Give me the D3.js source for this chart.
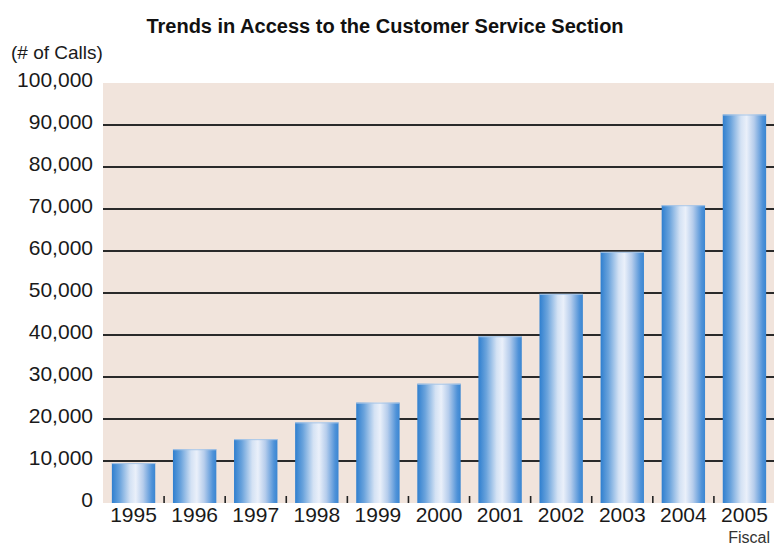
<!DOCTYPE html>
<html>
<head>
<meta charset="utf-8">
<script src="https://cdn.jsdelivr.net/npm/d3@7"></script>
<style>
  html, body { margin: 0; padding: 0; background: #fff; }
  svg { display: block; font-family: "Liberation Sans", Arial, Helvetica, sans-serif; }
</style>
</head>
<body>
<svg id="chart" width="774" height="547"></svg>
<script>
// Annual calls to the Customer Service Section, by fiscal year
const years = ["1995", "1996", "1997", "1998", "1999", "2000", "2001", "2002", "2003", "2004", "2005"];
const calls = [9500, 12800, 15200, 19200, 23900, 28400, 39700, 49800, 59800, 70900, 92500];
const yTicks = [0, 10000, 20000, 30000, 40000, 50000, 60000, 70000, 80000, 90000, 100000];

const titleText = "Trends in Access to the Customer Service Section";
const unitText = "(# of Calls)";
const xAxisText = "Fiscal";

const svg = d3.select("#chart");
const W = 774;
const plot = { left: 103, right: 775, top: 83, bottom: 503 };

const x = d3.scaleBand()
  .domain(years)
  .range([plot.left, plot.right])
  .paddingInner(0.29)
  .paddingOuter(0.145);

const y = d3.scaleLinear()
  .domain([0, 100000])
  .range([plot.bottom, plot.top]);

// Bar shading: dark blue edges with a pale highlight near the middle
const defs = svg.append("defs");
const grad = defs.append("linearGradient")
  .attr("id", "barShade")
  .attr("x1", "0%").attr("x2", "100%")
  .attr("y1", "0%").attr("y2", "0%");
[
  [0, "#2f7fcf"],
  [0.18, "#6aa3dc"],
  [0.42, "#d4e2f4"],
  [0.55, "#eaf0fa"],
  [0.72, "#b6cdec"],
  [0.92, "#4f92d8"],
  [1, "#3a86d2"]
].forEach(([o, c]) => grad.append("stop").attr("offset", o).attr("stop-color", c));

// Plot background
svg.append("rect")
  .attr("x", plot.left)
  .attr("y", y(100000))
  .attr("width", W - plot.left)
  .attr("height", y(0) - y(100000))
  .attr("fill", "#f1e4dc");

// Horizontal gridlines behind the bars
svg.append("g")
  .selectAll("line")
  .data(yTicks.filter(v => v > 0 && v < 100000))
  .join("line")
  .attr("x1", plot.left)
  .attr("x2", W)
  .attr("y1", d => y(d))
  .attr("y2", d => y(d))
  .attr("stroke", "#2a2a2a")
  .attr("stroke-width", 2);

const barData = years.map((yr, i) => ({ yr, v: calls[i] }));

// Bars
svg.append("g")
  .selectAll("rect")
  .data(barData)
  .join("rect")
  .attr("x", d => x(d.yr))
  .attr("width", x.bandwidth())
  .attr("y", d => y(d.v))
  .attr("height", d => y(0) - y(d.v))
  .attr("fill", "url(#barShade)");

// Thin light cap on each bar
svg.append("g")
  .selectAll("line")
  .data(barData)
  .join("line")
  .attr("x1", d => x(d.yr))
  .attr("x2", d => x(d.yr) + x.bandwidth())
  .attr("y1", d => y(d.v) + 0.5)
  .attr("y2", d => y(d.v) + 0.5)
  .attr("stroke", "#a9c6e6")
  .attr("stroke-width", 1);

// Small separators between categories at the baseline
svg.append("g")
  .selectAll("line")
  .data(years.slice(1))
  .join("line")
  .attr("x1", d => x(d) - x.step() * x.paddingInner() / 2)
  .attr("x2", d => x(d) - x.step() * x.paddingInner() / 2)
  .attr("y1", y(0) - 7)
  .attr("y2", y(0))
  .attr("stroke", "#222")
  .attr("stroke-width", 1.6);

// Y axis labels
const yAxis = d3.axisLeft(y)
  .tickValues(yTicks)
  .tickSize(0)
  .tickPadding(0)
  .tickFormat(d3.format(","));

svg.append("g")
  .attr("transform", `translate(${plot.left - 10},-3)`)
  .call(yAxis)
  .call(g => g.select(".domain").remove())
  .call(g => g.selectAll("text")
    .attr("font-size", 21)
    .attr("fill", "#1a1a1a")
    .attr("font-family", "'Liberation Sans', Arial, sans-serif"));

// X axis labels
const xAxis = d3.axisBottom(x).tickSize(0).tickPadding(0);
svg.append("g")
  .attr("transform", `translate(0,${plot.bottom + 4})`)
  .call(xAxis)
  .call(g => g.select(".domain").remove())
  .call(g => g.selectAll("text")
    .attr("font-size", 21)
    .attr("fill", "#1a1a1a")
    .attr("font-family", "'Liberation Sans', Arial, sans-serif"));

// Title and axis captions
svg.append("text")
  .attr("x", 385)
  .attr("y", 33)
  .attr("text-anchor", "middle")
  .attr("font-size", 20)
  .attr("font-weight", "bold")
  .attr("fill", "#111")
  .text(titleText);

svg.append("text")
  .attr("x", 11)
  .attr("y", 59)
  .attr("font-size", 19)
  .attr("fill", "#1a1a1a")
  .text(unitText);

svg.append("text")
  .attr("x", 770)
  .attr("y", 543)
  .attr("text-anchor", "end")
  .attr("font-size", 16)
  .attr("fill", "#333")
  .text(xAxisText);
</script>
</body>
</html>
